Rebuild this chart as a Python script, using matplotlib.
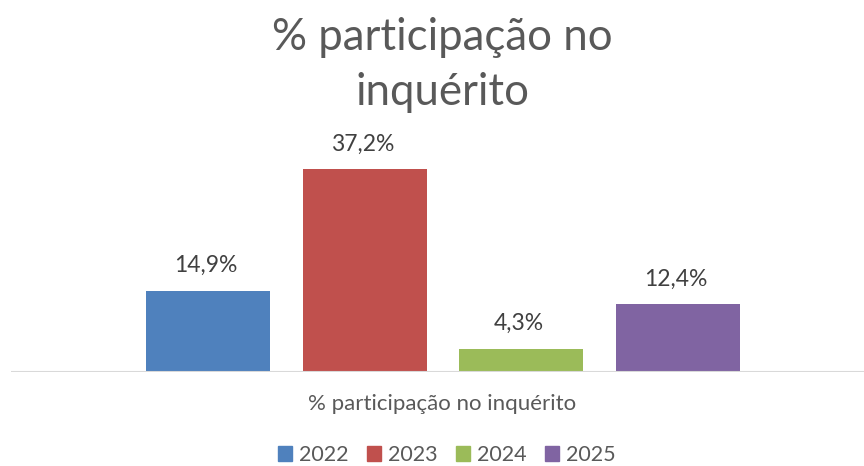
import matplotlib
matplotlib.use("Agg")
import matplotlib.pyplot as plt
from matplotlib.patches import Patch

plt.rcParams['font.family'] = ['Lato', 'DejaVu Sans']

years = ["2022", "2023", "2024", "2025"]
values = [14.9, 37.2, 4.3, 12.4]
labels = ["14,9%", "37,2%", "4,3%", "12,4%"]
colors = ["#4F81BD", "#C0504D", "#9BBB59", "#8064A2"]
category = "% participação no inquérito"
title_lines = ["% participação no", "inquérito"]

W, H = 864, 466
fig = plt.figure(figsize=(W / 100, H / 100), dpi=100)
# axes: x from 11 px to right edge, baseline at 372 px, top at 154 px (40%)
ax = fig.add_axes([11 / W, (H - 372) / H, (W - 11) / W, (372 - 154) / H])

pitch = 156.67
w = 124 / pitch
xs = list(range(len(values)))
ax.bar(xs, values, width=w, color=colors, zorder=2)
for x, v, lab in zip(xs, values, labels):
    ax.annotate(lab, (x, v), xytext=(-1.5, 13.5), textcoords="offset points",
                ha="center", va="baseline", fontsize=16.5, color="#404040")

c0 = 208
ax.set_xlim(-(c0 - 11) / pitch, -(c0 - 11) / pitch + (W - 11) / pitch)
ax.set_ylim(0, 40)
ax.axis("off")
ax.axhline(0, color="#D9D9D9", lw=1.5, zorder=3)

fig.text(442 / W, 1 - 410 / H, category, ha="center", va="baseline", fontsize=16,
         color="#595959")
for i, line in enumerate(title_lines):
    fig.text(442 / W, 1 - (50 + 55 * i) / H, line, ha="center", va="baseline",
             fontsize=31.5, color="#595959")

handles = [Patch(color=c, label=y) for c, y in zip(colors, years)]
fig.legend(handles=handles, loc="center", bbox_to_anchor=(447 / W, 1 - 455 / H), ncol=4,
           frameon=False, fontsize=15.5, labelcolor="#595959", handlelength=0.65,
           handleheight=0.65, handletextpad=0.35, columnspacing=0.83)

fig.savefig("out.png", dpi=100)
